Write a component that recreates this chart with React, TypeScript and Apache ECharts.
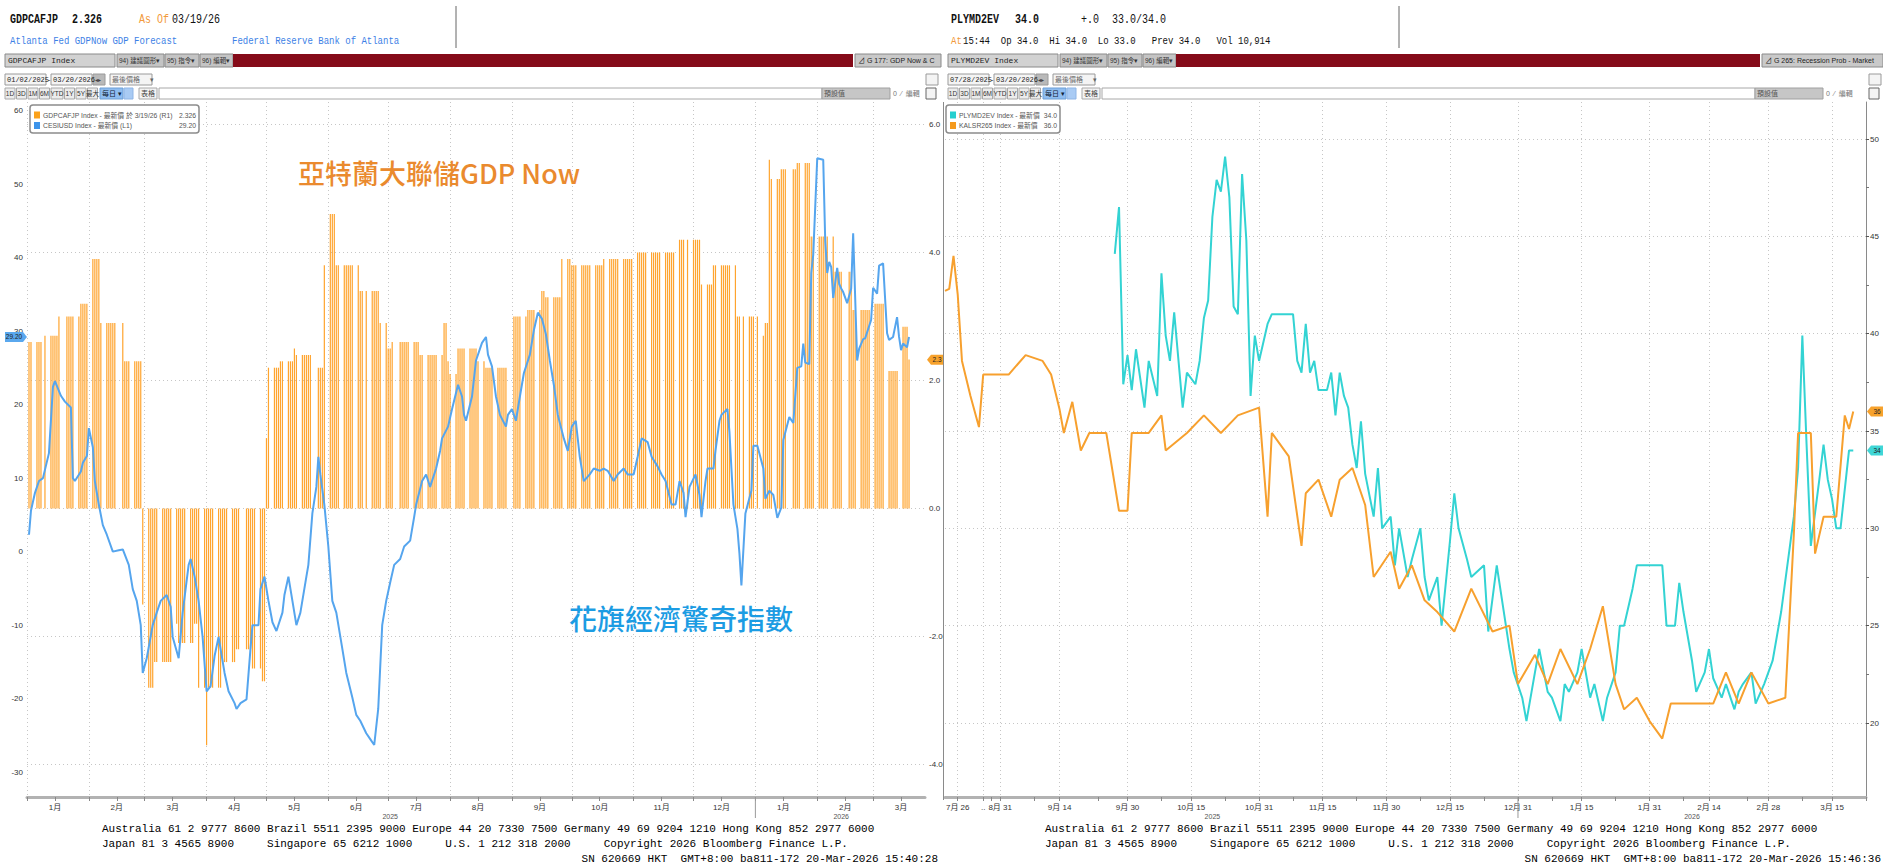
import React, { useEffect, useRef } from "react";
import * as echarts from "echarts";

// ---------------- data : left panel (GDPNow vs Citi surprise) ----------------
const leftAxisStart = "2025-01-01";
const leftAxisEnd = "2026-03-27";
const gdpBarFirst = "2025-01-02";
const gdpBarLast = "2026-03-19";
const marketHolidays = ["2025-01-01", "2025-01-09", "2025-01-20", "2025-02-17", "2025-04-18", "2025-05-26", "2025-06-19", "2025-07-04", "2025-09-01", "2025-11-27", "2025-12-25", "2026-01-01", "2026-01-19", "2026-02-16"];
// GDPNow estimate changes [date, value] (R1 axis)
const gdpNowUpdates: [string, number][] = [
  ["2025-01-02", 2.6], ["2025-01-10", 2.7], ["2025-01-17", 3.0], ["2025-01-28", 3.2], ["2025-02-03", 3.9],
  ["2025-02-07", 2.9], ["2025-02-19", 2.3], ["2025-02-28", -1.5], ["2025-03-03", -2.8], ["2025-03-06", -2.4],
  ["2025-03-17", -1.8], ["2025-03-18", -2.1], ["2025-03-26", -1.8], ["2025-03-28", -2.8], ["2025-04-01", -3.7],
  ["2025-04-02", -2.8], ["2025-04-09", -2.4], ["2025-04-16", -2.2], ["2025-04-24", -2.5], ["2025-04-29", -2.7],
  ["2025-05-01", 1.1], ["2025-05-02", 2.2], ["2025-05-08", 2.3], ["2025-05-15", 2.5], ["2025-05-16", 2.4],
  ["2025-05-27", 2.2], ["2025-05-30", 3.8], ["2025-06-02", 4.6], ["2025-06-05", 3.8], ["2025-06-17", 3.4],
  ["2025-06-27", 2.9], ["2025-07-01", 2.5], ["2025-07-03", 2.6], ["2025-07-17", 2.4], ["2025-07-29", 2.9],
  ["2025-07-31", 2.3], ["2025-08-01", 2.1], ["2025-08-05", 2.5], ["2025-08-15", 2.3], ["2025-08-19", 2.2],
  ["2025-09-02", 3.0], ["2025-09-09", 3.1], ["2025-09-16", 3.4], ["2025-09-18", 3.3], ["2025-09-26", 3.9],
  ["2025-10-01", 3.8], ["2025-10-17", 3.9], ["2025-11-03", 4.0], ["2025-11-24", 4.2], ["2025-12-05", 3.5],
  ["2025-12-11", 3.8], ["2025-12-23", 3.0], ["2026-01-05", 2.7], ["2026-01-06", 2.9], ["2026-01-08", 5.45],
  ["2026-01-09", 5.15], ["2026-01-14", 5.3], ["2026-01-22", 5.4], ["2026-01-29", 4.25], ["2026-02-10", 3.7],
  ["2026-02-19", 3.1], ["2026-03-02", 3.2], ["2026-03-09", 2.15], ["2026-03-16", 2.84], ["2026-03-19", 2.33],
];
// Citi Economic Surprise Index (L1 axis)
const cesiPoints: [string, number][] = [
  ["2025-01-02", 2.3], ["2025-01-03", 5.6], ["2025-01-05", 8.0], ["2025-01-07", 9.6], ["2025-01-09", 10.0],
  ["2025-01-12", 13.4], ["2025-01-14", 22.4], ["2025-01-15", 23.2], ["2025-01-18", 21.2], ["2025-01-20", 20.4],
  ["2025-01-23", 19.6], ["2025-01-24", 10.0], ["2025-01-25", 9.6], ["2025-01-28", 10.9], ["2025-01-29", 12.1],
  ["2025-01-31", 13.0], ["2025-02-01", 16.8], ["2025-02-03", 14.2], ["2025-02-04", 9.6], ["2025-02-06", 6.4],
  ["2025-02-08", 3.6], ["2025-02-10", 2.3], ["2025-02-13", 0.0], ["2025-02-16", 0.2], ["2025-02-18", 0.3],
  ["2025-02-21", -1.8], ["2025-02-23", -5.1], ["2025-02-25", -6.7], ["2025-02-27", -10.0], ["2025-02-28", -16.5],
  ["2025-03-02", -14.5], ["2025-03-05", -10.0], ["2025-03-07", -8.3], ["2025-03-09", -6.7], ["2025-03-12", -5.9],
  ["2025-03-14", -7.5], ["2025-03-15", -11.6], ["2025-03-18", -14.5], ["2025-03-20", -8.3], ["2025-03-23", -1.8],
  ["2025-03-24", -1.0], ["2025-03-26", -3.4], ["2025-03-28", -6.7], ["2025-03-30", -11.6], ["2025-04-01", -19.0],
  ["2025-04-03", -18.3], ["2025-04-05", -14.2], ["2025-04-07", -11.6], ["2025-04-10", -16.5], ["2025-04-12", -19.0],
  ["2025-04-15", -20.6], ["2025-04-16", -21.4], ["2025-04-18", -20.6], ["2025-04-21", -20.1], ["2025-04-23", -13.2],
  ["2025-04-24", -10.0], ["2025-04-27", -10.0], ["2025-04-28", -5.1], ["2025-04-30", -3.4], ["2025-05-02", -6.7],
  ["2025-05-04", -9.6], ["2025-05-06", -10.8], ["2025-05-09", -8.3], ["2025-05-10", -5.9], ["2025-05-12", -3.4],
  ["2025-05-14", -6.7], ["2025-05-16", -10.0], ["2025-05-18", -8.3], ["2025-05-21", -3.4], ["2025-05-22", -1.8],
  ["2025-05-24", 5.2], ["2025-05-26", 8.8], ["2025-05-27", 12.9], ["2025-05-28", 10.5], ["2025-05-30", 6.4],
  ["2025-06-01", 0.7], ["2025-06-03", -6.7], ["2025-06-05", -8.3], ["2025-06-08", -13.2], ["2025-06-10", -16.5],
  ["2025-06-13", -19.8], ["2025-06-15", -22.2], ["2025-06-17", -23.0], ["2025-06-20", -24.7], ["2025-06-22", -25.5],
  ["2025-06-24", -26.3], ["2025-06-26", -21.4], ["2025-06-27", -15.7], ["2025-06-28", -10.0], ["2025-06-30", -6.7],
  ["2025-07-02", -4.2], ["2025-07-04", -1.8], ["2025-07-07", -1.0], ["2025-07-09", 0.7], ["2025-07-12", 1.5],
  ["2025-07-14", 4.7], ["2025-07-15", 6.4], ["2025-07-18", 9.6], ["2025-07-20", 10.5], ["2025-07-22", 8.8],
  ["2025-07-25", 11.3], ["2025-07-27", 13.7], ["2025-07-28", 15.4], ["2025-07-31", 17.0], ["2025-08-02", 19.4],
  ["2025-08-05", 22.7], ["2025-08-07", 21.1], ["2025-08-08", 18.6], ["2025-08-09", 17.8], ["2025-08-12", 21.1],
  ["2025-08-14", 26.0], ["2025-08-17", 28.4], ["2025-08-19", 29.2], ["2025-08-20", 26.8], ["2025-08-22", 25.2],
  ["2025-08-24", 21.1], ["2025-08-26", 18.6], ["2025-08-29", 17.0], ["2025-08-30", 18.6], ["2025-09-01", 19.4],
  ["2025-09-03", 17.8], ["2025-09-05", 21.1], ["2025-09-07", 24.3], ["2025-09-10", 26.8], ["2025-09-12", 30.1],
  ["2025-09-14", 32.5], ["2025-09-16", 31.7], ["2025-09-18", 29.6], ["2025-09-20", 26.0], ["2025-09-22", 22.7],
  ["2025-09-24", 18.6], ["2025-09-27", 15.4], ["2025-09-29", 13.7], ["2025-10-01", 17.0], ["2025-10-03", 17.8],
  ["2025-10-05", 12.9], ["2025-10-07", 9.6], ["2025-10-10", 10.5], ["2025-10-12", 11.3], ["2025-10-15", 11.0],
  ["2025-10-17", 11.3], ["2025-10-19", 11.0], ["2025-10-22", 9.6], ["2025-10-24", 10.5], ["2025-10-27", 11.3],
  ["2025-10-29", 10.5], ["2025-11-01", 10.5], ["2025-11-03", 12.9], ["2025-11-05", 15.4], ["2025-11-08", 14.9],
  ["2025-11-10", 12.9], ["2025-11-13", 11.6], ["2025-11-15", 10.5], ["2025-11-17", 9.6], ["2025-11-20", 6.4],
  ["2025-11-22", 6.4], ["2025-11-24", 9.6], ["2025-11-26", 8.0], ["2025-11-27", 4.7], ["2025-11-29", 8.8],
  ["2025-12-02", 10.5], ["2025-12-04", 7.7], ["2025-12-05", 4.7], ["2025-12-07", 9.6], ["2025-12-08", 11.3],
  ["2025-12-11", 11.3], ["2025-12-12", 13.7], ["2025-12-14", 17.8], ["2025-12-15", 18.6], ["2025-12-18", 19.4],
  ["2025-12-19", 16.3], ["2025-12-20", 11.3], ["2025-12-21", 6.4], ["2025-12-23", 3.1], ["2025-12-24", -0.2],
  ["2025-12-25", -4.6], ["2025-12-27", 5.2], ["2025-12-30", 8.3], ["2025-12-31", 14.4], ["2026-01-02", 14.4],
  ["2026-01-05", 11.3], ["2026-01-06", 7.2], ["2026-01-08", 8.3], ["2026-01-10", 7.7], ["2026-01-12", 4.6],
  ["2026-01-14", 6.0], ["2026-01-15", 15.2], ["2026-01-18", 18.3], ["2026-01-20", 17.5], ["2026-01-22", 25.0],
  ["2026-01-24", 25.2], ["2026-01-25", 28.3], ["2026-01-26", 25.7], ["2026-01-28", 25.5], ["2026-01-29", 37.9],
  ["2026-01-30", 40.4], ["2026-02-01", 53.5], ["2026-02-04", 53.3], ["2026-02-05", 42.3], ["2026-02-06", 37.9],
  ["2026-02-07", 39.4], ["2026-02-08", 38.7], ["2026-02-09", 34.5], ["2026-02-11", 38.6], ["2026-02-12", 36.4],
  ["2026-02-13", 35.8], ["2026-02-14", 35.3], ["2026-02-16", 33.8], ["2026-02-18", 35.8], ["2026-02-19", 43.3],
  ["2026-02-21", 26.0], ["2026-02-22", 27.6], ["2026-02-24", 28.9], ["2026-02-25", 29.0], ["2026-02-28", 31.5],
  ["2026-03-01", 35.9], ["2026-03-03", 35.1], ["2026-03-04", 38.9], ["2026-03-06", 39.2], ["2026-03-08", 29.7],
  ["2026-03-09", 28.8], ["2026-03-11", 29.2], ["2026-03-13", 31.9], ["2026-03-14", 29.2], ["2026-03-15", 27.4],
  ["2026-03-16", 28.3], ["2026-03-18", 27.8], ["2026-03-19", 29.2],
];
const cesiLast = 29.2;
const gdpLast = 2.326;
const leftYearLabels: [string, string][] = [["2025", "2025-07-02"], ["2026", "2026-02-13"]];

// ---------------- data : right panel (recession probability markets) ----------------
const rightSparseDates = ["2025-07-15", "2025-07-19", "2025-07-22", "2025-07-26", "2025-07-30", "2025-08-02", "2025-08-06", "2025-08-09", "2025-08-13", "2025-08-16", "2025-08-20", "2025-08-23", "2025-08-27", "2025-08-31"];
const rightDailyStart = "2025-09-01";
const rightDailyEnd = "2026-03-23";
const rightLabelDates = ["2025-07-26", "2025-08-16", "2025-08-31", "2025-09-14", "2025-09-30", "2025-10-15", "2025-10-31", "2025-11-15", "2025-11-30", "2025-12-15", "2025-12-31", "2026-01-15", "2026-01-31", "2026-02-14", "2026-02-28", "2026-03-15"];
const rightYearLabels: [string, string][] = [["2025", "2025-10-20"], ["2026", "2026-02-10"]];
const polyPoints: [string, number][] = [
  ["2025-09-27", 44.1], ["2025-09-28", 46.5], ["2025-09-29", 37.4], ["2025-09-30", 38.9], ["2025-10-01", 37.1],
  ["2025-10-02", 39.2], ["2025-10-04", 36.2], ["2025-10-05", 38.6], ["2025-10-07", 36.8], ["2025-10-08", 43.1],
  ["2025-10-09", 39.9], ["2025-10-10", 38.6], ["2025-10-11", 41.1], ["2025-10-13", 36.2], ["2025-10-14", 38.0],
  ["2025-10-16", 37.4], ["2025-10-17", 38.6], ["2025-10-18", 40.8], ["2025-10-19", 41.7], ["2025-10-20", 46.0],
  ["2025-10-21", 47.9], ["2025-10-22", 47.3], ["2025-10-23", 49.1], ["2025-10-24", 47.0], ["2025-10-25", 41.4],
  ["2025-10-26", 41.0], ["2025-10-27", 48.2], ["2025-10-28", 44.8], ["2025-10-29", 36.8], ["2025-10-30", 39.9],
  ["2025-10-31", 38.6], ["2025-11-02", 40.5], ["2025-11-03", 41.0], ["2025-11-08", 41.0], ["2025-11-09", 38.6],
  ["2025-11-10", 38.0], ["2025-11-11", 40.5], ["2025-11-12", 38.0], ["2025-11-13", 38.6], ["2025-11-14", 37.1],
  ["2025-11-16", 37.1], ["2025-11-17", 38.0], ["2025-11-18", 35.8], ["2025-11-19", 38.0], ["2025-11-20", 36.8],
  ["2025-11-21", 36.2], ["2025-11-22", 34.3], ["2025-11-23", 33.1], ["2025-11-24", 35.5], ["2025-11-25", 32.8],
  ["2025-11-27", 30.6], ["2025-11-28", 33.1], ["2025-11-29", 30.0], ["2025-12-01", 30.6], ["2025-12-02", 28.1],
  ["2025-12-03", 30.0], ["2025-12-05", 27.5], ["2025-12-06", 28.4], ["2025-12-08", 30.0], ["2025-12-09", 27.5],
  ["2025-12-10", 26.3], ["2025-12-12", 27.5], ["2025-12-13", 25.0], ["2025-12-15", 29.4], ["2025-12-16", 31.8],
  ["2025-12-17", 30.0], ["2025-12-19", 28.4], ["2025-12-20", 27.5], ["2025-12-23", 28.1], ["2025-12-24", 24.7],
  ["2025-12-26", 28.1], ["2025-12-29", 23.8], ["2025-12-30", 22.6], ["2026-01-01", 21.3], ["2026-01-02", 20.1],
  ["2026-01-04", 22.6], ["2026-01-05", 23.8], ["2026-01-07", 21.6], ["2026-01-08", 21.3], ["2026-01-10", 20.1],
  ["2026-01-11", 22.0], ["2026-01-12", 21.6], ["2026-01-14", 22.6], ["2026-01-15", 23.8], ["2026-01-17", 21.3],
  ["2026-01-18", 22.0], ["2026-01-20", 20.1], ["2026-01-21", 21.3], ["2026-01-23", 22.6], ["2026-01-24", 25.0],
  ["2026-01-25", 25.0], ["2026-01-27", 26.9], ["2026-01-28", 28.1], ["2026-02-03", 28.1], ["2026-02-04", 25.0],
  ["2026-02-06", 25.0], ["2026-02-07", 27.2], ["2026-02-08", 25.7], ["2026-02-10", 23.2], ["2026-02-11", 21.6],
  ["2026-02-13", 22.6], ["2026-02-14", 23.8], ["2026-02-15", 22.3], ["2026-02-17", 21.3], ["2026-02-18", 22.0],
  ["2026-02-20", 20.7], ["2026-02-21", 21.6], ["2026-02-22", 22.0], ["2026-02-24", 22.6], ["2026-02-25", 21.0],
  ["2026-02-27", 22.0], ["2026-02-28", 22.6], ["2026-03-01", 23.2], ["2026-03-03", 25.7], ["2026-03-06", 30.6],
  ["2026-03-07", 33.1], ["2026-03-08", 39.9], ["2026-03-09", 34.3], ["2026-03-10", 29.1], ["2026-03-12", 32.5],
  ["2026-03-13", 34.3], ["2026-03-14", 32.5], ["2026-03-15", 31.5], ["2026-03-16", 30.0], ["2026-03-17", 30.0],
  ["2026-03-19", 34.0], ["2026-03-20", 34.0],
];
const kalshiPoints: [string, number][] = [
  ["2025-07-15", 42.2], ["2025-07-19", 42.3], ["2025-07-22", 44.0], ["2025-07-26", 42.0], ["2025-07-30", 38.6],
  ["2025-08-06", 36.8], ["2025-08-13", 35.2], ["2025-08-16", 37.9], ["2025-09-02", 37.9], ["2025-09-06", 38.9],
  ["2025-09-10", 38.6], ["2025-09-12", 37.9], ["2025-09-14", 36.1], ["2025-09-15", 34.9], ["2025-09-17", 36.5],
  ["2025-09-19", 34.0], ["2025-09-21", 34.9], ["2025-09-25", 34.9], ["2025-09-28", 30.9], ["2025-09-30", 30.9],
  ["2025-10-01", 34.9], ["2025-10-05", 34.9], ["2025-10-08", 35.8], ["2025-10-09", 34.0], ["2025-10-14", 34.9],
  ["2025-10-18", 35.8], ["2025-10-22", 34.9], ["2025-10-26", 35.8], ["2025-10-31", 36.2], ["2025-11-02", 30.6],
  ["2025-11-03", 34.9], ["2025-11-07", 33.7], ["2025-11-10", 29.1], ["2025-11-11", 31.8], ["2025-11-14", 32.5],
  ["2025-11-17", 30.6], ["2025-11-19", 32.5], ["2025-11-22", 33.1], ["2025-11-25", 31.2], ["2025-11-27", 27.5],
  ["2025-12-01", 28.8], ["2025-12-03", 26.9], ["2025-12-06", 28.1], ["2025-12-09", 26.3], ["2025-12-12", 25.7],
  ["2025-12-16", 24.7], ["2025-12-20", 26.9], ["2025-12-25", 24.7], ["2025-12-29", 25.0], ["2025-12-31", 22.0],
  ["2026-01-04", 23.5], ["2026-01-07", 22.0], ["2026-01-10", 23.8], ["2026-01-14", 22.0], ["2026-01-17", 23.8],
  ["2026-01-20", 26.0], ["2026-01-23", 22.0], ["2026-01-25", 20.7], ["2026-01-28", 21.3], ["2026-01-31", 20.1],
  ["2026-02-03", 19.2], ["2026-02-05", 21.0], ["2026-02-10", 21.0], ["2026-02-15", 21.0], ["2026-02-18", 22.6],
  ["2026-02-21", 21.0], ["2026-02-24", 22.6], ["2026-02-28", 21.0], ["2026-03-04", 21.3], ["2026-03-06", 29.7],
  ["2026-03-07", 34.9], ["2026-03-10", 34.9], ["2026-03-11", 28.7], ["2026-03-13", 30.6], ["2026-03-16", 30.6],
  ["2026-03-18", 35.8], ["2026-03-19", 35.1], ["2026-03-20", 36.0],
];
const polyLast = 34.0;
const kalshiLast = 36.0;

// ---------------- helpers ----------------
const toISO = (t: number) => new Date(t).toISOString().slice(0, 10);
const dayRange = (a: string, b: string) => {
  const out: string[] = [];
  const end = Date.parse(b + "T00:00:00Z");
  for (let t = Date.parse(a + "T00:00:00Z"); t <= end; t += 864e5) out.push(toISO(t));
  return out;
};
const leftCats = dayRange(leftAxisStart, leftAxisEnd);
const rightCats = [...rightSparseDates, ...dayRange(rightDailyStart, rightDailyEnd)];

function buildGdpBars() {
  const out: [string, number][] = [];
  let k = -1;
  for (const d of dayRange(gdpBarFirst, gdpBarLast)) {
    const wd = new Date(d + "T00:00:00Z").getUTCDay();
    if (wd === 0 || wd === 6 || marketHolidays.includes(d)) continue;
    while (k + 1 < gdpNowUpdates.length && gdpNowUpdates[k + 1][0] <= d) k++;
    if (k >= 0) out.push([d, gdpNowUpdates[k][1]]);
  }
  return out;
}

const MONO = "'Liberation Mono', 'DejaVu Sans Mono', monospace";
const SANS = "'Liberation Sans', 'Noto Sans CJK TC', sans-serif";
const CJK = "'Noto Sans CJK TC', 'Noto Sans CJK SC', sans-serif";
const DOT = [1, 3];
const GRIDC = "#c6c6c6";

// layout (page pixels)
const L = { left: 27, width: 898, top: 102, bottom: 797 };
const R = { left: 945, width: 921, top: 102, bottom: 797 };
const CESI_BOX = { top: 110.5, bottom: 772.2 };
const GDP_BOX = { top: 124.5, bottom: 764.5 };
const REC_BOX = { top: 139, bottom: 723 };
const PAGE_H = 867;

function txt(x: number, y: number, text: string, fill: string, font: string, align = "left", extra: any = {}) {
  return { type: "text", x, y, silent: true, z: 20, style: { text, fill, font, textAlign: align, textVerticalAlign: "middle", align, verticalAlign: "middle" }, ...extra };
}
function rect(x: number, y: number, w: number, h: number, fill: string, stroke?: string, z = 10) {
  return { type: "rect", silent: true, z, shape: { x, y, width: w, height: h }, style: { fill, stroke: stroke || null, lineWidth: stroke ? 1 : 0 } };
}
function line(x1: number, y1: number, x2: number, y2: number, stroke: string, w = 1, z = 10) {
  return { type: "line", silent: true, z, shape: { x1, y1, x2, y2 }, style: { stroke, lineWidth: w } };
}

function chrome(ox: number, isLeft: boolean) {
  const g: any[] = [];
  const f10 = `10px ${MONO}`;
  const f9 = `9px ${MONO}`;
  const tall = { scaleY: 1.3 };
  if (isLeft) {
    g.push(txt(ox + 10, 19, "GDPCAFJP", "#111", `bold ${f10}`, "left", tall));
    g.push(txt(ox + 72, 19, "2.326", "#111", `bold ${f10}`, "left", tall));
    g.push(txt(ox + 139, 19, "As Of", "#f29a3c", f10, "left", tall));
    g.push(txt(ox + 172, 19, "03/19/26", "#111", f10, "left", tall));
    g.push(txt(ox + 10, 41, "Atlanta Fed GDPNow GDP Forecast", "#3d7fe6", f9, "left", tall));
    g.push(txt(ox + 232, 41, "Federal Reserve Bank of Atlanta", "#3d7fe6", f9, "left", tall));
  } else {
    g.push(txt(ox + 8, 19, "PLYMD2EV", "#111", `bold ${f10}`, "left", tall));
    g.push(txt(ox + 72, 19, "34.0", "#111", `bold ${f10}`, "left", tall));
    g.push(txt(ox + 138, 19, "+.0", "#111", f10, "left", tall));
    g.push(txt(ox + 169, 19, "33.0/34.0", "#111", f10, "left", tall));
    g.push(txt(ox + 8, 41, "At", "#f29a3c", f9, "left", tall));
    g.push(txt(ox + 20, 41, "15:44  Op 34.0  Hi 34.0  Lo 33.0   Prev 34.0   Vol 10,914", "#111", f9, "left", tall));
  }
  g.push(line(ox + 456, 6, ox + 456, 48, "#666", 1));
  // dark red toolbar
  const small = `6.5px ${SANS}`;
  g.push(rect(ox + 5, 54, 110, 13, "#d2d2d2", "#8a8a8a"));
  g.push(txt(ox + 8, 60.5, isLeft ? "GDPCAFJP Index" : "PLYMD2EV Index", "#222", `8px ${MONO}`));
  g.push(rect(ox + 117, 54, 47, 13, "#c4c4c4", "#8a8a8a"));
  g.push(txt(ox + 119, 60.5, "94) 建議圖形▾", "#333", small));
  g.push(rect(ox + 165, 54, 34, 13, "#c4c4c4", "#8a8a8a"));
  g.push(txt(ox + 167, 60.5, "95) 指令▾", "#333", small));
  g.push(rect(ox + 200, 54, 33, 13, "#c4c4c4", "#8a8a8a"));
  g.push(txt(ox + 202, 60.5, "96) 編輯▾", "#333", small));
  const redEnd = isLeft ? 853 : 817;
  const boxEnd = isLeft ? 941 : 940;
  g.push(rect(ox + 233, 54, redEnd - 233, 13, "#850b19"));
  g.push(rect(ox + redEnd + 2, 54, boxEnd - redEnd - 2, 13, "#c9c9c9", "#8a8a8a"));
  g.push({
    type: "text", x: ox + redEnd + 5, y: 60.5, silent: true, z: 20,
    style: { text: isLeft ? "⊿ G 177: GDP Now & CE" : "⊿ G 265: Recession Prob - Market", fill: "#222", font: `7px ${SANS}`, textVerticalAlign: "middle", verticalAlign: "middle", width: boxEnd - redEnd - 8, overflow: "truncate", ellipsis: "" },
  });
  // date row
  g.push(rect(ox + 5, 74, 41, 11, "#f4f4f4", "#9a9a9a"));
  g.push(txt(ox + 7, 79.5, isLeft ? "01/02/2025" : "07/28/2025", "#222", `7px ${MONO}`));
  g.push(txt(ox + 47, 79.5, "-", "#222", `7px ${MONO}`));
  g.push(rect(ox + 51, 74, 41, 11, "#f4f4f4", "#9a9a9a"));
  g.push(txt(ox + 53, 79.5, "03/20/2026", "#222", `7px ${MONO}`));
  g.push(rect(ox + 93, 74, 12, 11, "#b9b9b9", "#9a9a9a"));
  g.push(txt(ox + 95, 79.5, "◂▸", "#444", `6px ${SANS}`));
  g.push(rect(ox + 110, 74, 42, 11, "#f4f4f4", "#9a9a9a"));
  g.push(txt(ox + 112, 79.5, "最後價格     ▾", "#666", `7px ${SANS}`));
  g.push(rect(ox + 926, 74, 12, 11, "#f4f4f4", "#9a9a9a"));
  // period buttons row
  const btns = ["1D", "3D", "1M", "6M", "YTD", "1Y", "5Y", "最大"];
  let bx = ox + 5;
  for (const b of btns) {
    const w = b.length >= 3 ? 12 : 10;
    g.push(rect(bx, 88, w, 11, "#ececec", "#a8a8a8"));
    g.push(txt(bx + w / 2, 93.5, b, "#333", `6.5px ${SANS}`, "center"));
    bx += w + 1.5;
  }
  g.push(rect(bx + 1, 88, 23, 11, "#8fbdf0", "#6d9fd6"));
  g.push(txt(bx + 3, 93.5, "每日 ▾", "#123", `7px ${SANS}`));
  g.push(rect(bx + 25, 88, 9, 11, "#a9cbf4", "#8fb5e6"));
  g.push(rect(bx + 40, 88, 18, 11, "#f4f4f4", "#a8a8a8"));
  g.push(txt(bx + 42, 93.5, "表格", "#444", `7px ${SANS}`));
  const defX = isLeft ? 822 : 812;
  g.push(rect(bx + 60, 88, defX - (bx - ox) - 60, 11, "#ffffff", "#a8a8a8"));
  g.push(rect(ox + defX, 88, 68, 11, "#c6c6c6", "#a0a0a0"));
  g.push(txt(ox + defX + 2, 93.5, "預設值", "#555", `7px ${SANS}`));
  g.push(txt(ox + defX + 71, 93.5, "0  ⁄  編輯", "#777", `7px ${SANS}`));
  g.push(rect(ox + 926, 88, 10, 11, "#f4f4f4", "#666"));
  return g;
}

function footer(ox: number, stamp: string) {
  const f = `11px ${MONO}`;
  return [
    txt(ox + 102, 829, "Australia 61 2 9777 8600 Brazil 5511 2395 9000 Europe 44 20 7330 7500 Germany 49 69 9204 1210 Hong Kong 852 2977 6000", "#000", f),
    txt(ox + 102, 844, "Japan 81 3 4565 8900     Singapore 65 6212 1000     U.S. 1 212 318 2000     Copyright 2026 Bloomberg Finance L.P.", "#000", f),
    txt(ox + 938, 859, `SN 620669 HKT  GMT+8:00 ba811-172 20-Mar-2026 ${stamp}`, "#000", f, "right"),
  ];
}

function legendBox(x: number, rows: { color: string; label: string; value: string }[], w: number) {
  const g: any[] = [];
  g.push({ type: "rect", silent: true, z: 30, shape: { x, y: 105, width: w, height: 28, r: 3 }, style: { fill: "#ffffff", stroke: "#8c8c8c", lineWidth: 1.5 } });
  rows.forEach((r, i) => {
    const y = 115 + i * 10.5;
    g.push({ type: "rect", silent: true, z: 31, shape: { x: x + 4, y: y - 3.5, width: 6, height: 7 }, style: { fill: r.color } });
    g.push({ ...txt(x + 13, y, r.label, "#555", `6.8px ${SANS}`), z: 31 });
    g.push({ ...txt(x + w - 3, y, r.value, "#555", `6.8px ${SANS}`, "right"), z: 31 });
  });
  return g;
}

function tag(xTip: number, y: number, w: number, pointLeft: boolean, fill: string, text: string) {
  const h = 10;
  const pts = pointLeft
    ? [[xTip, y], [xTip + 4, y - h / 2], [xTip + w, y - h / 2], [xTip + w, y + h / 2], [xTip + 4, y + h / 2]]
    : [[xTip, y], [xTip - 4, y - h / 2], [xTip - w, y - h / 2], [xTip - w, y + h / 2], [xTip - 4, y + h / 2]];
  const cx = pointLeft ? xTip + 4 + (w - 4) / 2 : xTip - 4 - (w - 4) / 2;
  return [
    { type: "polygon", silent: true, z: 40, shape: { points: pts }, style: { fill } },
    { ...txt(cx, y, text, "#222", `6.5px ${SANS}`, "center"), z: 41 },
  ];
}

export default function App() {
  const ref = useRef<HTMLDivElement>(null);
  useEffect(() => {
    document.body.style.margin = "0";
    const el = ref.current!;
    const chart = echarts.init(el, undefined, { renderer: "svg", width: 1883, height: PAGE_H });
    const gdpBars = buildGdpBars();
    const bot = (b: number) => PAGE_H - b;
    const gridOf = (left: number, width: number, top: number, bottom: number) => ({ left, width, top, bottom: bot(bottom), containLabel: false, outerBoundsMode: "none" });
    const hiddenX = (gridIndex: number, data: string[]) => ({ type: "category", gridIndex, data, boundaryGap: false, show: false });
    const leftTick = (_i: number, v: string) => v.endsWith("-01") || v.endsWith("-15");
    const rightLabelSet = new Set(rightLabelDates);
    const rightTick = (_i: number, v: string) => rightLabelSet.has(v) || v.endsWith("-08") || v.endsWith("-23");
    const axisFont = { fontSize: 8, color: "#333", fontFamily: SANS };

    const option: any = {
      animation: false,
      backgroundColor: "#ffffff",
      grid: [
        gridOf(L.left, L.width, L.top, L.bottom),
        gridOf(L.left, L.width, CESI_BOX.top, CESI_BOX.bottom),
        gridOf(L.left, L.width, GDP_BOX.top, GDP_BOX.bottom),
        gridOf(R.left, R.width, R.top, R.bottom),
        gridOf(R.left, R.width, REC_BOX.top, REC_BOX.bottom),
      ],
      xAxis: [
        {
          type: "category", gridIndex: 0, data: leftCats, boundaryGap: false,
          axisLine: { lineStyle: { color: "#b2b2b2", width: 3 } },
          axisTick: { interval: leftTick, length: 4, lineStyle: { color: "#888" } },
          axisLabel: { ...axisFont, interval: (_i: number, v: string) => v.endsWith("-15"), formatter: (v: string) => `${+v.slice(5, 7)}月`, margin: 6 },
          splitLine: { show: true, interval: (_i: number, v: string) => v.endsWith("-01"), lineStyle: { color: GRIDC, type: DOT } },
        },
        hiddenX(1, leftCats),
        hiddenX(2, leftCats),
        {
          type: "category", gridIndex: 3, data: rightCats, boundaryGap: false,
          axisLine: { lineStyle: { color: "#b2b2b2", width: 3 } },
          axisTick: { interval: rightTick, length: 4, lineStyle: { color: "#888" } },
          axisLabel: {
            ...axisFont, interval: (_i: number, v: string) => rightLabelSet.has(v), margin: 6,
            formatter: (v: string) => (v === "2025-08-16" ? ".." : `${+v.slice(5, 7)}月 ${+v.slice(8, 10)}`),
          },
          splitLine: { show: true, interval: (_i: number, v: string) => rightLabelSet.has(v), lineStyle: { color: GRIDC, type: DOT } },
        },
        hiddenX(4, rightCats),
      ],
      yAxis: [
        { type: "value", gridIndex: 0, show: false },
        {
          type: "value", gridIndex: 1, position: "left", min: -30, max: 60, interval: 10,
          axisLine: { show: false }, axisTick: { show: false }, splitLine: { show: false },
          axisLabel: { ...axisFont, margin: 4 },
        },
        {
          type: "value", gridIndex: 2, position: "right", min: -4, max: 6, interval: 2,
          axisLine: { show: false }, axisTick: { show: false },
          splitLine: { show: true, lineStyle: { color: GRIDC, type: DOT } },
          axisLabel: { ...axisFont, margin: 4, formatter: (v: number) => v.toFixed(1) },
        },
        {
          type: "value", gridIndex: 3, position: "right", min: 0, max: 1,
          axisLine: { show: true, onZero: false, lineStyle: { color: "#8a8a8a", width: 1 } },
          axisTick: { show: false }, axisLabel: { show: false }, splitLine: { show: false },
        },
        {
          type: "value", gridIndex: 4, position: "right", min: 20, max: 50, interval: 5,
          axisLine: { show: false },
          axisTick: { show: true, length: 3, lineStyle: { color: "#555" } },
          minorTick: { show: true, splitNumber: 2, length: 3, lineStyle: { color: "#777" } },
          splitLine: { show: true, lineStyle: { color: GRIDC, type: DOT } },
          axisLabel: { ...axisFont, margin: 4 },
        },
      ],
      series: [
        {
          name: "GDPCAFJP Index", type: "bar", xAxisIndex: 2, yAxisIndex: 2, data: gdpBars,
          barWidth: 1.2, itemStyle: { color: "#ffa42e" }, z: 2, clip: false,
        },
        {
          name: "CESIUSD Index", type: "line", xAxisIndex: 1, yAxisIndex: 1, data: cesiPoints,
          showSymbol: false, symbol: "none", lineStyle: { color: "#55a5ee", width: 2 }, z: 3, clip: false,
        },
        {
          name: "PLYMD2EV Index", type: "line", xAxisIndex: 4, yAxisIndex: 4, data: polyPoints,
          showSymbol: false, symbol: "none", lineStyle: { color: "#33d3d3", width: 2 }, z: 3, clip: false,
        },
        {
          name: "KALSR265 Index", type: "line", xAxisIndex: 4, yAxisIndex: 4, data: kalshiPoints,
          showSymbol: false, symbol: "none", lineStyle: { color: "#f7a02e", width: 2 }, z: 4, clip: false,
        },
      ],
    };
    chart.setOption(option);

    const px = (axis: number, cats: string[], d: string) => chart.convertToPixel({ xAxisIndex: axis } as any, cats.indexOf(d)) as unknown as number;
    const py = (axis: number, v: number) => chart.convertToPixel({ yAxisIndex: axis } as any, v) as unknown as number;

    const g: any[] = [];
    g.push(...chrome(0, true));
    g.push(...chrome(943, false));
    g.push(line(943.5, 102, 943.5, 800, "#8a8a8a", 1, 15));
    g.push(...footer(0, "15:40:28"));
    g.push(...footer(943, "15:46:36"));
    // year separators and labels
    const lYear = px(0, leftCats, "2026-01-01");
    g.push(line(lYear, 797, lYear, 818, "#9a9a9a", 1));
    for (const [t, d] of leftYearLabels) g.push(txt(px(0, leftCats, d), 816, t, "#555", `7px ${SANS}`, "center"));
    const rYear = px(3, rightCats, "2025-12-31");
    g.push(line(rYear, 797, rYear, 818, "#9a9a9a", 1));
    for (const [t, d] of rightYearLabels) g.push(txt(px(3, rightCats, d), 816, t, "#555", `7px ${SANS}`, "center"));
    // annotations
    g.push(txt(298, 172, "亞特蘭大聯儲GDP Now", "#ea8a2e", `500 27px ${CJK}`));
    g.push(txt(569, 618, "花旗經濟驚奇指數", "#1c9ce3", `500 28px ${CJK}`));
    // legends
    g.push(...legendBox(30, [
      { color: "#fba21c", label: "GDPCAFJP Index - 最新價 於 3/19/26 (R1)", value: String(gdpLast) },
      { color: "#3d94ea", label: "CESIUSD Index - 最新價 (L1)", value: cesiLast.toFixed(2) },
    ], 169));
    g.push(...legendBox(946, [
      { color: "#26cfcf", label: "PLYMD2EV Index - 最新價", value: polyLast.toFixed(1) },
      { color: "#f59a1c", label: "KALSR265 Index - 最新價", value: kalshiLast.toFixed(1) },
    ], 114));
    // last-value tags
    g.push(...tag(27, py(1, cesiLast), 22, false, "#5aa8ee", cesiLast.toFixed(2)));
    g.push(...tag(927, py(2, gdpLast), 16, true, "#f7a22c", "2.3"));
    g.push(...tag(1867, py(4, kalshiLast), 16, true, "#f7a22c", "36"));
    g.push(...tag(1867, py(4, polyLast), 16, true, "#3fd6d6", "34"));
    chart.setOption({ graphic: { elements: g } });

    return () => chart.dispose();
  }, []);
  return <div ref={ref} style={{ position: "absolute", left: 0, top: 0, width: 1883, height: PAGE_H }} />;
}
